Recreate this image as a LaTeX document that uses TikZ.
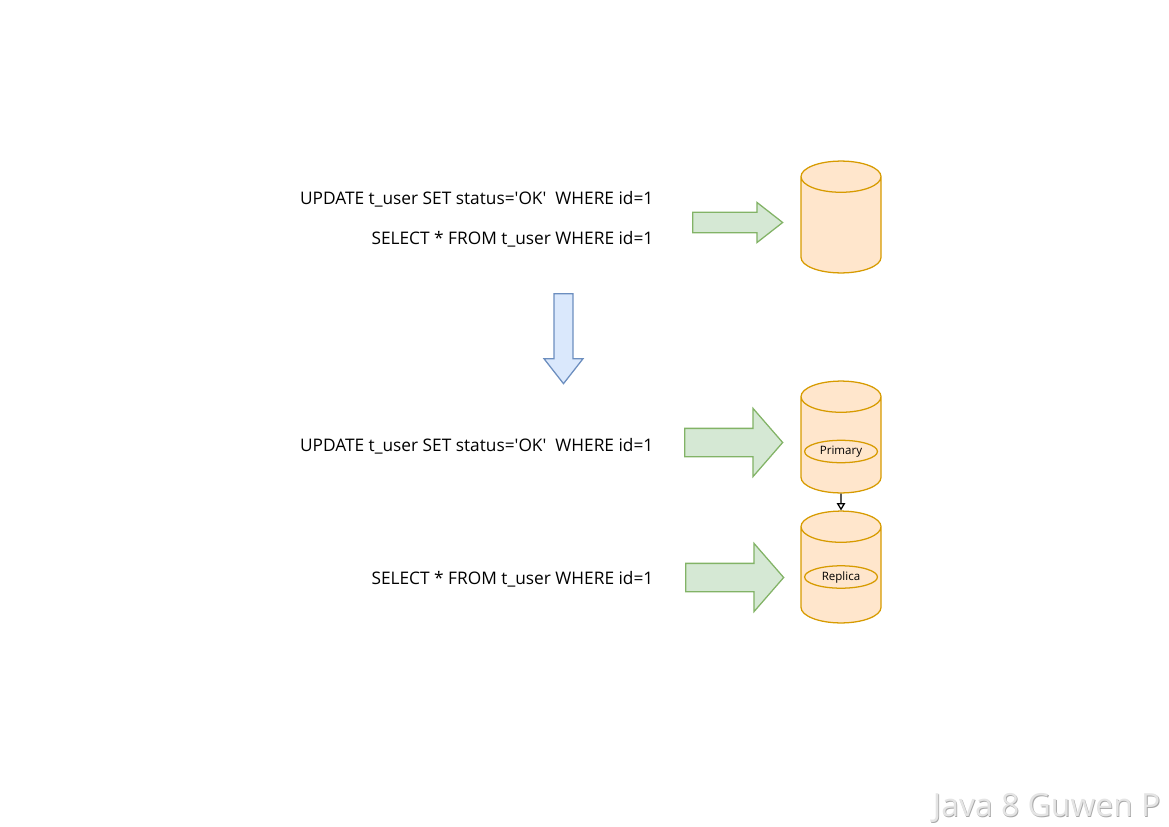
\documentclass[tikz,border=0pt]{standalone}
\usepackage{fontspec}
\setmainfont{Open Sans}
\usetikzlibrary{shapes.geometric,shapes.arrows,arrows.meta}
\definecolor{dbfill}{HTML}{FFE6CC}
\definecolor{dbline}{HTML}{D79B00}
\definecolor{greenfill}{HTML}{D5E8D4}
\definecolor{greenline}{HTML}{82B366}
\definecolor{bluefill}{HTML}{DAE8FC}
\definecolor{blueline}{HTML}{6C8EBF}
\newcommand{\embossed}[1]{\rlap{\raisebox{-.6pt}{\hspace{.6pt}\textcolor[HTML]{A8A8A8}{#1}}}\textcolor[HTML]{E4E4E4}{#1}}
\begin{document}
\begin{tikzpicture}
[
 x=.025cm,
 y=-.025cm,
 line width=.9pt,
 >={Triangle[open]},
 inner sep=0pt,
 db/.style={draw=dbline,fill=dbfill,cylinder,shape border rotate=90,inner sep=1cm,shape aspect=.39,minimum width=2cm,minimum height=2.75cm,anchor=shape center},
 tag/.style={draw=dbline,fill=dbfill,ellipse,minimum width=1.82cm,minimum height=.56cm,font=\fontsize{8.2}{10}\selectfont},
 bigarrow/.style={draw=greenline,fill=greenfill,single arrow,inner ysep=.3375cm,single arrow head extend=.5cm,minimum width=1.675cm,single arrow tip angle=98,anchor=tail,minimum height=2.45cm},
 smallarrow/.style={draw=greenline,fill=greenfill,single arrow,inner ysep=.2375cm,single arrow head extend=.25cm,minimum width=.975cm,single arrow tip angle=76,anchor=tail,minimum height=2.25cm},
 sql/.style={anchor=east,font=\fontsize{12.3}{14}\selectfont}
]
\useasboundingbox (0,0) rectangle (1169,827);
\node (update-a) [sql] at (654,199) {UPDATE t\_user SET status=\textquotesingle OK\textquotesingle\ \ WHERE id=1};
\node (select-a) [sql] at (654,239) {SELECT * FROM t\_user WHERE id=1};
\node (update-b) [sql] at (654,446) {UPDATE t\_user SET status=\textquotesingle OK\textquotesingle\ \ WHERE id=1};
\node (select-b) [sql] at (654,579) {SELECT * FROM t\_user WHERE id=1};
\node (db-single) [db] at (841,217) {};
\node (db-primary) [db] at (841,437) {};
\node (db-replica) [db] at (841,567) {};
\node (tag-primary) [tag] at (841,451.5) {Primary};
\node (tag-replica) [tag] at (841,577) {Replica};
\node (arrow-single) [smallarrow] at (692,222.5) {};
\node (arrow-update) [bigarrow] at (684,442.5) {};
\node (arrow-select) [bigarrow] at (685,577.5) {};
\node (arrow-split) [smallarrow,inner ysep=0pt,inner xsep=.22cm,draw=blueline,fill=bluefill,shape border rotate=270] at (563.5,293) {};
\draw[->] (db-primary.south) -- (db-replica.north);
\node (mark) [anchor=south east,font=\fontsize{22.7}{28}\selectfont] at (1161,824) {\embossed{Java 8 Guwen P}};
\end{tikzpicture}
\end{document}
